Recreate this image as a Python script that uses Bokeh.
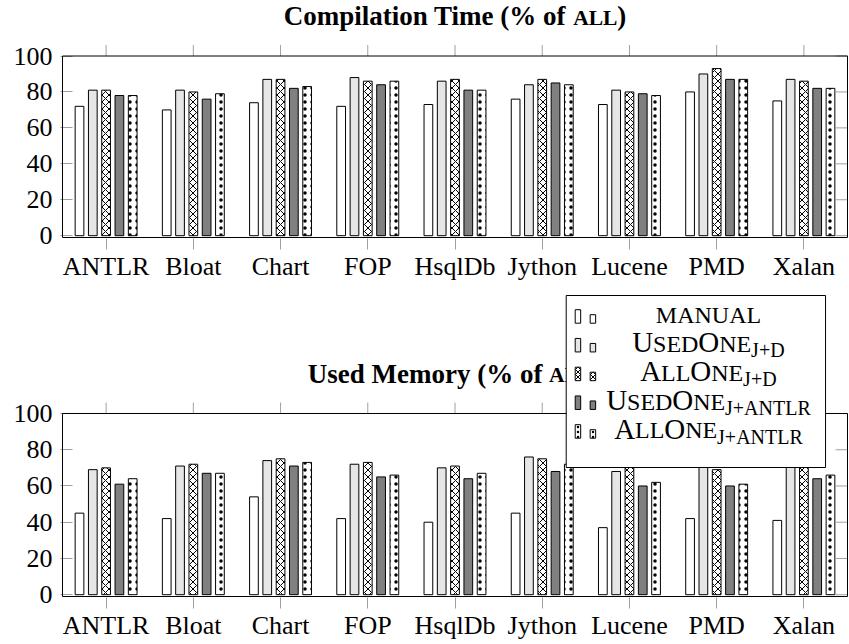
from bokeh.plotting import figure
from bokeh.models import (ColumnDataSource, FactorRange, Range1d, FixedTicker,
                          Label, BoxAnnotation)
from bokeh.transform import dodge
from bokeh.layouts import column
from bokeh.embed import file_html
from bokeh.resources import INLINE

# ---------------- data ----------------
categories = ["ANTLR", "Bloat", "Chart", "FOP", "HsqlDb", "Jython", "Lucene", "PMD", "Xalan"]
series_keys = ["manual", "used_jd", "all_jd", "used_ja", "all_ja"]

compile_manual = [72, 70, 74, 72, 73, 76, 73, 80, 75]
compile_used_jd = [81, 81, 87, 88, 86, 84, 81, 90, 87]
compile_all_jd = [81, 80, 87, 86, 87, 87, 80, 93, 86]
compile_used_ja = [78, 76, 82, 84, 81, 85, 79, 87, 82]
compile_all_ja = [78, 79, 83, 86, 81, 84, 78, 87, 82]

memory_manual = [45, 42, 54, 42, 40, 45, 37, 42, 41]
memory_used_jd = [69, 71, 74, 72, 70, 76, 68, 74, 75]
memory_all_jd = [70, 72, 75, 73, 71, 75, 72, 69, 74]
memory_used_ja = [61, 67, 71, 65, 64, 68, 60, 60, 64]
memory_all_ja = [64, 67, 73, 66, 67, 72, 62, 61, 66]

y_ticks = [0, 20, 40, 60, 80, 100]

FONT = "Liberation Serif"
TICK_GRAY = "#a0a0a0"

STYLES = {
    "manual": dict(fill_color="white", hatch_pattern=None),
    "used_jd": dict(fill_color="#e6e6e6", hatch_pattern=None),
    "all_jd": dict(fill_color="white", hatch_pattern="diagonal_cross"),
    "used_ja": dict(fill_color="#808080", hatch_pattern=None),
    "all_ja": dict(fill_color="white", hatch_pattern="dot"),
}
HATCH = {"diagonal_cross": dict(hatch_scale=7, hatch_weight=1),
         "dot": dict(hatch_scale=7, hatch_weight=2)}
OFFSETS = [-0.305, -0.1525, 0.0, 0.1525, 0.305]
BAR_W = 0.1

# Times metrics (per 1000 em)
ROMAN = {"A": 722, "D": 722, "E": 611, "J": 389, "L": 611, "M": 889, "N": 722,
         "O": 722, "R": 667, "S": 556, "T": 611, "U": 722, "+": 564, " ": 250}
BOLD = {" ": 250, "(": 333, ")": 333, "%": 1000, "C": 722, "T": 667, "U": 722,
        "M": 944, "A": 722, "L": 667, "a": 500, "e": 444, "f": 333, "i": 278,
        "l": 278, "m": 833, "n": 556, "o": 500, "p": 556, "r": 444, "s": 389,
        "t": 333, "y": 500, "d": 556}
BASE_FIX = 0.33   # empirical shift (em) to put the alphabetic baseline where wanted


def tw(text, size, table):
    return sum(table.get(c, 500) for c in text) * size / 1000.0


# ---------------- layout (page pixels) ----------------
W = 849
BOX_L, BOX_R = 61, 848
PPX = (BOX_R - BOX_L) / 9.0
PAD_X = 1.0 / PPX


def make_panel(vals, canvas_top, height, box_top, box_bottom):
    ppy = (box_bottom - box_top) / 101.0
    frame_bottom = box_bottom + 1
    y_start = -1 - 1.0 / ppy
    y_end = 100 + (box_top - canvas_top) / ppy
    src = ColumnDataSource(dict(cat=categories, manual=vals[0], used_jd=vals[1],
                                all_jd=vals[2], used_ja=vals[3], all_ja=vals[4]))
    p = figure(x_range=FactorRange(*categories, range_padding=2 * PAD_X,
                                   range_padding_units="absolute"),
               y_range=Range1d(y_start, y_end), width=W, height=height,
               output_backend="svg", toolbar_location=None,
               min_border_left=BOX_L - 1, min_border_right=0,
               min_border_top=0,
               min_border_bottom=canvas_top + height - frame_bottom)
    p.title.visible = False
    p.xgrid.visible = False
    p.ygrid.visible = False
    p.outline_line_color = None
    p.background_fill_color = "white"
    p.border_fill_color = "white"

    for key, off in zip(series_keys, OFFSETS):
        st = STYLES[key]
        kw = dict(fill_color=st["fill_color"], line_color="black", line_width=1)
        if st["hatch_pattern"]:
            kw.update(hatch_pattern=st["hatch_pattern"], hatch_color="black",
                      **HATCH[st["hatch_pattern"]])
        p.vbar(x=dodge("cat", off, range=p.x_range), top=key, width=BAR_W,
               source=src, **kw)

    p.add_layout(BoxAnnotation(left=0, right=9, bottom=-1, top=100,
                               fill_alpha=0, line_color="black", line_alpha=1,
                               line_width=1, line_dash="solid"))
    p.segment(x0=categories, x1=categories, y0=[100] * len(categories),
              y1=[100 + 11.0 / ppy] * len(categories), line_color=TICK_GRAY,
              line_width=1)
    p.segment(x0=[9] * len(y_ticks), x1=[9 - 12.0 / PPX] * len(y_ticks),
              y0=y_ticks, y1=y_ticks, line_color=TICK_GRAY, line_width=1)

    xa = p.xaxis[0]
    xa.major_label_text_font = FONT
    xa.major_label_text_font_size = "26px"
    xa.major_label_text_color = "black"
    xa.major_tick_out = 11
    xa.major_tick_in = 0
    xa.major_tick_line_color = TICK_GRAY
    xa.axis_line_color = None
    xa.major_label_standoff = 2

    ya = p.yaxis[0]
    ya.ticker = FixedTicker(ticks=y_ticks)
    ya.major_label_text_font = FONT
    ya.major_label_text_font_size = "26px"
    ya.major_label_text_color = "black"
    ya.major_tick_in = 12
    ya.major_tick_out = 0
    ya.major_tick_line_color = TICK_GRAY
    ya.minor_tick_line_color = None
    ya.axis_line_color = None
    ya.major_label_standoff = 8
    return p, ppy


def add_title(p, head, y_off):
    T = 27.0
    Ts = 21.5
    w1 = tw(head, T, BOLD)
    wsp = tw(" ", T, BOLD)
    w2 = tw("ALL", Ts, BOLD)
    w3 = tw(")", T, BOLD)
    total = w1 + wsp + w2 + w3
    x0 = -total / 2.0
    pieces = [(head, T, x0), ("ALL", Ts, x0 + w1 + wsp), (")", T, x0 + w1 + wsp + w2)]
    for txt, sz, xo in pieces:
        p.add_layout(Label(x=4.5, y=100, x_offset=xo, y_offset=y_off + BASE_FIX * sz,
                           text=txt, text_font=FONT, text_font_style="bold",
                           text_font_size=f"{sz}px", text_color="black",
                           text_align="left", text_baseline="alphabetic"))


H1 = 284
H2 = 644 - H1
TOP_BOX = (55.5, 237)
BOT_BOX = (413, 596)
p1, ppy1 = make_panel([compile_manual, compile_used_jd, compile_all_jd,
                       compile_used_ja, compile_all_ja], 0, H1, *TOP_BOX)
p2, ppy2 = make_panel([memory_manual, memory_used_jd, memory_all_jd,
                       memory_used_ja, memory_all_ja], H1, H2, *BOT_BOX)
add_title(p1, "Compilation Time (% of", TOP_BOX[0] - 24.5)
add_title(p2, "Used Memory (% of", BOT_BOX[0] - 382)


# ---------------- legend (bottom panel, page pixel layout) ----------------
def X(px):
    return (px - BOX_L) / PPX


def Y(py):
    return 100 - (py - BOT_BOX[0]) / ppy2


LG_L, LG_R, LG_T, LG_B = 566, 826, 295, 467
p2.add_layout(BoxAnnotation(left=X(LG_L), right=X(LG_R), top=Y(LG_T), bottom=Y(LG_B),
                            fill_color="white", fill_alpha=1, line_color="black",
                            line_alpha=1, line_width=1, line_dash="solid"))

F, S, B = 29.0, 24.0, 20.0
rows = [
    [("MANUAL", S, 0)],
    [("U", F, 0), ("SED", S, 0), ("O", F, 0), ("NE", S, 0), ("J+D", B, 5)],
    [("A", F, 0), ("LL", S, 0), ("O", F, 0), ("NE", S, 0), ("J+D", B, 5)],
    [("U", F, 0), ("SED", S, 0), ("O", F, 0), ("NE", S, 0), ("J+ANTLR", B, 5)],
    [("A", F, 0), ("LL", S, 0), ("O", F, 0), ("NE", S, 0), ("J+ANTLR", B, 5)],
]
CENTER = 708.5
for k, (key, row) in enumerate(zip(series_keys, rows)):
    base = 322.7 + k * 28.75
    st = STYLES[key]
    for (l, r, h) in [(575, 580.5, 13.5), (590, 595.5, 8.5)]:
        kw = dict(fill_color=st["fill_color"], fill_alpha=1, line_color="black",
                  line_alpha=1, line_width=1, line_dash="solid")
        if st["hatch_pattern"] == "diagonal_cross":
            kw.update(hatch_pattern="diagonal_cross", hatch_color="black",
                      hatch_alpha=1, hatch_scale=5, hatch_weight=1)
        elif st["hatch_pattern"] == "dot":
            kw.update(hatch_pattern="dot", hatch_color="black",
                      hatch_alpha=1, hatch_scale=5, hatch_weight=2)
        p2.add_layout(BoxAnnotation(left=X(l), right=X(r), top=Y(base - h),
                                    bottom=Y(base), **kw))
    total = sum(tw(t, sz, ROMAN) for t, sz, _ in row)
    xpos = CENTER - total / 2.0
    for t, sz, drop in row:
        p2.add_layout(Label(x=X(xpos), y=Y(base + drop), y_offset=BASE_FIX * sz,
                            text=t, text_font=FONT,
                            text_font_size=f"{sz}px", text_color="black",
                            text_align="left", text_baseline="alphabetic"))
        xpos += tw(t, sz, ROMAN)

layout = column(p1, p2, spacing=0)
open("out.html", "w").write(file_html(layout, INLINE))
